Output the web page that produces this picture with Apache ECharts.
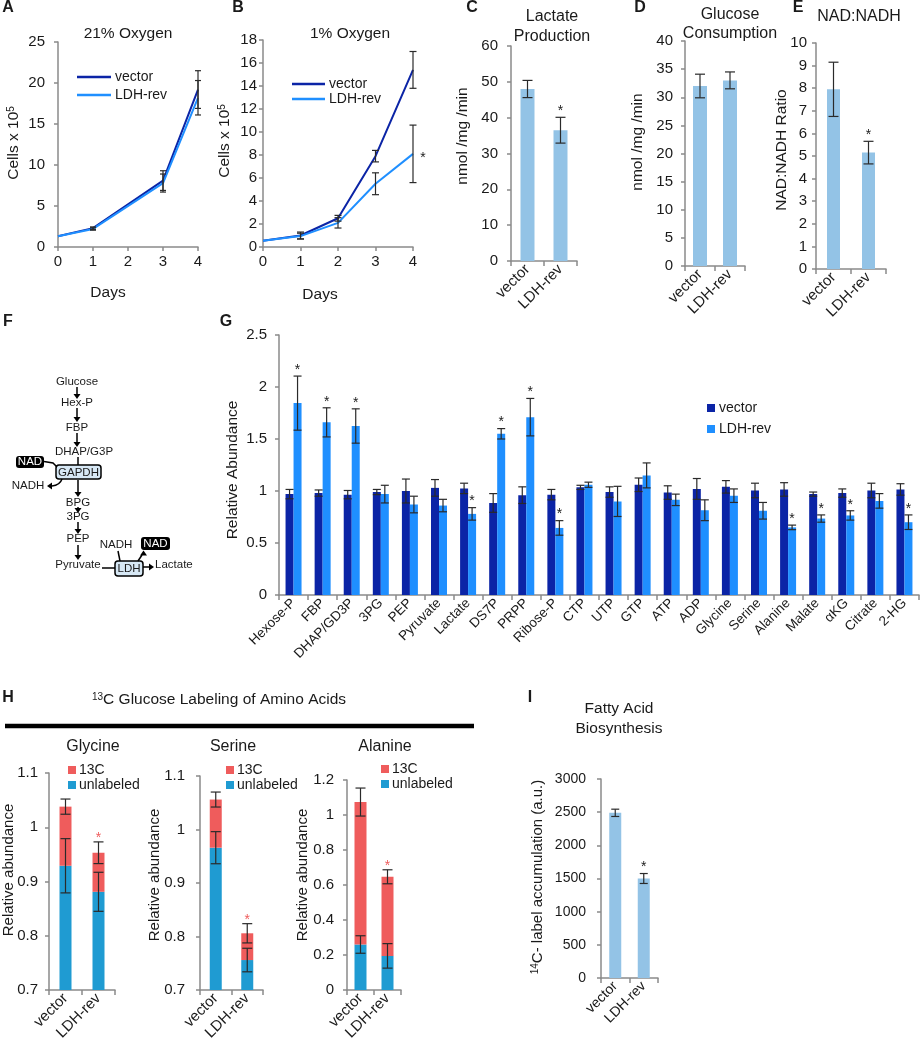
<!DOCTYPE html>
<html><head><meta charset="utf-8">
<script src="https://cdn.jsdelivr.net/npm/echarts@6/dist/echarts.min.js"></script>
<style>html,body{margin:0;padding:0;background:#fff}#c{width:920px;height:1050px}</style>
</head><body><div id="c"></div>
<script>
// ---------------- DATA ----------------
const daysA = [0, 1, 3, 4];
const vectorA = [1.3, 2.3, 8.1, 19.2];
const vectorAErr = [0, 0.15, 1.2, 2.3];
const ldhA = [1.3, 2.2, 7.8, 18.2];
const ldhAErr = [0, 0.15, 1.1, 2.1];

const daysB = [0, 1, 2, 3, 4];
const vectorB = [0.55, 1.0, 2.5, 7.9, 15.4];
const vectorBErr = [0, 0.3, 0.25, 0.5, 1.6];
const ldhB = [0.55, 0.95, 2.1, 5.5, 8.1];
const ldhBErr = [0, 0.25, 0.45, 0.95, 2.5];
const ldhBSig = [0, 0, 0, 0, 1];

const groups = ['vector', 'LDH-rev'];
const lactate = [48, 36.5];
const lactateErr = [2.4, 3.6];
const lactateSig = [0, 1];
const glucose = [32, 33];
const glucoseErr = [2.1, 1.5];
const glucoseSig = [0, 0];
const nadRatio = [7.95, 5.15];
const nadRatioErr = [1.2, 0.5];
const nadRatioSig = [0, 1];

const metabolites = ['Hexose-P','FBP','DHAP/GD3P','3PG','PEP','Pyruvate','Lactate','DS7P','PRPP','Ribose-P','CTP','UTP','GTP','ATP','ADP','Glycine','Serine','Alanine','Malate','αKG','Citrate','2-HG'];
const vectorG = [0.97,0.98,0.965,0.99,1.0,1.03,1.025,0.885,0.96,0.965,1.035,0.99,1.06,0.985,1.02,1.04,1.005,1.015,0.97,0.98,1.005,1.015];
const vectorGErr = [0.045,0.03,0.04,0.025,0.115,0.08,0.05,0.09,0.08,0.05,0.02,0.05,0.065,0.065,0.1,0.06,0.07,0.065,0.02,0.04,0.07,0.055];
const ldhG = [1.845,1.66,1.625,0.97,0.87,0.86,0.78,1.55,1.71,0.645,1.06,0.9,1.15,0.915,0.815,0.955,0.81,0.65,0.735,0.765,0.905,0.70];
const ldhGErr = [0.26,0.14,0.165,0.085,0.08,0.06,0.06,0.05,0.18,0.07,0.025,0.145,0.12,0.055,0.1,0.065,0.08,0.022,0.035,0.045,0.07,0.07];
const ldhGSig = [1,1,1,0,0,0,1,1,1,1,0,0,0,0,0,0,0,1,1,1,0,1];

const glyUnlabeled = [0.929, 0.881];
const glyUnlabeledErr = [0.05, 0.036];
const glyTotal = [1.038, 0.953];
const glyTotalErr = [0.014, 0.02];
const glySig = [0, 1];
const serUnlabeled = [0.966, 0.756];
const serUnlabeledErr = [0.03, 0.022];
const serTotal = [1.056, 0.806];
const serTotalErr = [0.014, 0.018];
const serSig = [0, 1];
const alaUnlabeled = [0.26, 0.195];
const alaUnlabeledErr = [0.05, 0.07];
const alaTotal = [1.074, 0.647];
const alaTotalErr = [0.08, 0.04];
const alaSig = [0, 1];

const fattyAcid = [2490, 1500];
const fattyAcidErr = [55, 75];
const fattyAcidSig = [0, 1];

// ---------------- STYLE ----------------
const FONT = '"Liberation Sans", Arial, Helvetica, sans-serif';
const TXT = '#1a1a1a';
const AXC = '#8a8a8a';
const LB = '#93c3e6';
const C_VEC = '#0b24a6';
const C_LDH = '#1f8fff';
const C_13C = '#ef5c5c';
const C_UNL = '#1f9bd2';
const ERR = '#2a2a2a';

const chart = echarts.init(document.getElementById('c'), null, {renderer: 'canvas'});

const fmt = v => String(+(+v).toFixed(2));

function valAxis(gi, min, max, interval, margin, fs) {
  return {type: 'value', gridIndex: gi, min, max, interval,
    axisLine: {show: true, lineStyle: {color: AXC, width: 1.5}},
    axisTick: {show: true, length: 4, lineStyle: {color: AXC, width: 1.5}},
    splitLine: {show: false},
    axisLabel: {color: TXT, fontSize: fs || 15, fontFamily: FONT, margin: margin, formatter: fmt}};
}
function catAxis(gi, data, fs) {
  return {type: 'category', gridIndex: gi, data,
    axisLine: {show: true, lineStyle: {color: AXC, width: 1.5}},
    axisTick: {show: true, length: 5, lineStyle: {color: AXC, width: 1.5}},
    axisLabel: {rotate: 45, interval: 0, color: TXT, fontSize: fs || 15, fontFamily: FONT, margin: 6}};
}
function errData(xs, vals, errs, off) {
  const out = [];
  vals.forEach((v, i) => { if (errs[i]) out.push([xs[i], v - errs[i], v + errs[i], off]); });
  return out;
}
function starData(xs, vals, errs, sig, dx, dy) {
  const out = [];
  vals.forEach((v, i) => { if (sig[i]) out.push([xs[i], v + (errs ? errs[i] : 0), dx, dy]); });
  return out;
}
function errSeries(ai, data, capW) {
  return {type: 'custom', xAxisIndex: ai, yAxisIndex: ai, data, z: 5, silent: true, clip: false,
    renderItem: function (p, api) {
      const x = api.value(0), lo = api.value(1), hi = api.value(2), off = api.value(3);
      const a = api.coord([x, lo]), b = api.coord([x, hi]);
      const cx = a[0] + off, st = {stroke: ERR, lineWidth: 1.2};
      return {type: 'group', children: [
        {type: 'line', shape: {x1: cx, y1: a[1], x2: cx, y2: b[1]}, style: st},
        {type: 'line', shape: {x1: cx - capW / 2, y1: a[1], x2: cx + capW / 2, y2: a[1]}, style: st},
        {type: 'line', shape: {x1: cx - capW / 2, y1: b[1], x2: cx + capW / 2, y2: b[1]}, style: st}]};
    }};
}
function starSeries(ai, data, color, fs) {
  return {type: 'custom', xAxisIndex: ai, yAxisIndex: ai, data, z: 6, silent: true, clip: false,
    renderItem: function (p, api) {
      const c = api.coord([api.value(0), api.value(1)]);
      return {type: 'text', style: {text: '*', x: c[0] + api.value(2), y: c[1] + api.value(3),
        fill: color, font: fs + 'px ' + FONT, align: 'center', verticalAlign: 'bottom'}};
    }};
}
function lineSeries(ai, xs, ys, color, name) {
  return {type: 'line', name, xAxisIndex: ai, yAxisIndex: ai, data: xs.map((x, i) => [x, ys[i]]),
    symbol: 'none', lineStyle: {color, width: 2}, itemStyle: {color}, z: 3, silent: true};
}
function barSeries(ai, vals, color, w, extra) {
  return Object.assign({type: 'bar', xAxisIndex: ai, yAxisIndex: ai, data: vals, barWidth: w,
    itemStyle: {color}, silent: true, clip: true}, extra || {});
}
const idx = arr => arr.map((_, i) => i);

// ---------------- GRIDS ----------------
const gridBoxes = [
  {left: 58, top: 42, width: 140, height: 205},   // A
  {left: 263, top: 40, width: 150, height: 207},  // B
  {left: 511, top: 46, width: 66, height: 215},   // C
  {left: 685, top: 41, width: 60, height: 225},   // D
  {left: 816, top: 43, width: 70, height: 226},   // E
  {left: 279, top: 335, width: 640, height: 260}, // G
  {left: 49, top: 773, width: 66, height: 217},   // H glycine
  {left: 200, top: 776, width: 63, height: 214},  // H serine
  {left: 347, top: 780, width: 54, height: 210},  // H alanine
  {left: 601, top: 779, width: 57, height: 199}   // I
];
const grid = gridBoxes.map(g => Object.assign({containLabel: false, outerBoundsMode: 'none'}, g));

const xAxis = [
  valAxis(0, 0, 4, 1, 7), valAxis(1, 0, 4, 1, 7),
  catAxis(2, groups), catAxis(3, groups), catAxis(4, groups),
  catAxis(5, metabolites, 13.5),
  catAxis(6, groups), catAxis(7, groups), catAxis(8, groups),
  catAxis(9, groups, 14)
];
const yAxis = [
  valAxis(0, 0, 25, 5, 13), valAxis(1, 0, 18, 2, 6), valAxis(2, 0, 60, 10, 13), valAxis(3, 0, 40, 5, 12),
  valAxis(4, 0, 10, 1, 9), valAxis(5, 0, 2.5, 0.5, 12), valAxis(6, 0.7, 1.1, 0.1, 11), valAxis(7, 0.7, 1.1, 0.1, 15),
  valAxis(8, 0, 1.2, 0.2, 13), valAxis(9, 0, 3000, 500, 15, 14)
];

// ---------------- SERIES ----------------
const S = [];
// A
S.push(lineSeries(0, daysA, vectorA, C_VEC, 'vector'));
S.push(lineSeries(0, daysA, ldhA, C_LDH, 'LDH-rev'));
S.push(errSeries(0, errData(daysA, vectorA, vectorAErr, 0), 6));
S.push(errSeries(0, errData(daysA, ldhA, ldhAErr, 0), 6));
// B
S.push(lineSeries(1, daysB, vectorB, C_VEC, 'vector'));
S.push(lineSeries(1, daysB, ldhB, C_LDH, 'LDH-rev'));
S.push(errSeries(1, errData(daysB, vectorB, vectorBErr, 0), 7));
S.push(errSeries(1, errData(daysB, ldhB, ldhBErr, 0), 7));
S.push(starSeries(1, starData(daysB, ldhB, null, ldhBSig, 10, 11), TXT, 14));
// C, D, E
[[2, lactate, lactateErr, lactateSig, 14], [3, glucose, glucoseErr, glucoseSig, 14], [4, nadRatio, nadRatioErr, nadRatioSig, 13]]
  .forEach(([ai, v, e, s, w]) => {
    S.push(barSeries(ai, v, LB, w));
    S.push(errSeries(ai, errData(idx(v), v, e, 0), 10));
    S.push(starSeries(ai, starData(idx(v), v, e, s, 0, 1), TXT, 14));
  });
// G
S.push(barSeries(5, vectorG, C_VEC, 8, {name: 'vector', barGap: '0%'}));
S.push(barSeries(5, ldhG, C_LDH, 8, {name: 'LDH-rev', barGap: '0%'}));
S.push(errSeries(5, errData(idx(vectorG), vectorG, vectorGErr, -4), 8));
S.push(errSeries(5, errData(idx(ldhG), ldhG, ldhGErr, 4), 8));
S.push(starSeries(5, starData(idx(ldhG), ldhG, ldhGErr, ldhGSig, 4, 1), TXT, 14));
// H
[[6, glyUnlabeled, glyUnlabeledErr, glyTotal, glyTotalErr, glySig],
 [7, serUnlabeled, serUnlabeledErr, serTotal, serTotalErr, serSig],
 [8, alaUnlabeled, alaUnlabeledErr, alaTotal, alaTotalErr, alaSig]].forEach(([ai, u, ue, t, te, s]) => {
  S.push(barSeries(ai, u, C_UNL, 12, {stack: 'h' + ai, name: 'unlabeled'}));
  S.push(barSeries(ai, t.map((v, i) => +(v - u[i]).toFixed(4)), C_13C, 12, {stack: 'h' + ai, name: '13C'}));
  S.push(errSeries(ai, errData(idx(u), u, ue, 0), 10));
  S.push(errSeries(ai, errData(idx(t), t, te, 0), 10));
  S.push(starSeries(ai, starData(idx(t), t, te, s, 0, 3), C_13C, 14));
});
// I
S.push(barSeries(9, fattyAcid, LB, 12));
S.push(errSeries(9, errData(idx(fattyAcid), fattyAcid, fattyAcidErr, 0), 8));
S.push(starSeries(9, starData(idx(fattyAcid), fattyAcid, fattyAcidErr, fattyAcidSig, 0, 1), TXT, 14));

// ---------------- GRAPHIC (titles, legends, diagram) ----------------
function T(text, x, y, o) {
  o = o || {};
  return {type: 'text', x, y, rotation: o.rot || 0, z: 10, silent: true,
    style: {text, x: 0, y: 0, fill: o.color || TXT,
      font: (o.bold ? 'bold ' : '') + (o.fs || 15.5) + 'px ' + FONT,
      align: o.align || 'center', verticalAlign: o.va || 'middle', rich: o.rich}};
}
const V = Math.PI / 2;
const supRich = (fs, nfs) => ({s: {fontSize: fs, fontFamily: FONT, fill: TXT, verticalAlign: 'top'},
                        n: {fontSize: nfs || 15.5, fontFamily: FONT, fill: TXT}});
function L(x1, y1, x2, y2, w, c) {
  return {type: 'line', z: 10, silent: true, shape: {x1, y1, x2, y2}, style: {stroke: c || '#000', lineWidth: w || 1.5}};
}
function R(x, y, w, h, fill, stroke, r) {
  return {type: 'rect', z: 10, silent: true, shape: {x, y, width: w, height: h, r: r || 0},
    style: {fill, stroke: stroke || null, lineWidth: stroke ? 1.5 : 0}};
}
function head(x, y, dir) { // arrowhead tip at (x,y)
  const s = 3.5, l = 5;
  let pts;
  if (dir === 'down') pts = [[x - s, y - l], [x + s, y - l], [x, y]];
  else if (dir === 'up') pts = [[x - s, y + l], [x + s, y + l], [x, y]];
  else if (dir === 'right') pts = [[x - l, y - s], [x - l, y + s], [x, y]];
  else pts = [[x + l, y - s], [x + l, y + s], [x, y]];
  return {type: 'polygon', z: 10, silent: true, shape: {points: pts}, style: {fill: '#000'}};
}
function arrowDown(x, y1, y2) { return [L(x, y1, x, y2 - 4), head(x, y2, 'down')]; }

const G = [];
// panel letters
[['A', 8, 8], ['B', 238, 8], ['C', 472, 8], ['D', 640, 8], ['E', 798, 8], ['F', 8, 322], ['G', 226, 322], ['H', 8, 698], ['I', 530, 698]]
  .forEach(([t, x, y]) => G.push(T(t, x, y, {bold: true, fs: 16})));
// titles
G.push(T('21% Oxygen', 128, 34, {fs: 15.5}));
G.push(T('1% Oxygen', 350, 34, {fs: 15.5}));
G.push(T('Lactate', 552, 17, {fs: 16})); G.push(T('Production', 552, 37, {fs: 16}));
G.push(T('Glucose', 730, 15, {fs: 16})); G.push(T('Consumption', 730, 34, {fs: 16}));
G.push(T('NAD:NADH', 859, 17, {fs: 16}));
G.push(T('{s|13}{n|C Glucose Labeling of Amino Acids}', 219, 700, {rich: supRich(10, 15.5)}));
G.push(L(5, 726, 474, 726, 4.5));
G.push(T('Glycine', 93, 747, {fs: 16})); G.push(T('Serine', 233, 747, {fs: 16})); G.push(T('Alanine', 385, 747, {fs: 16}));
G.push(T('Fatty Acid', 619, 709, {fs: 15.5})); G.push(T('Biosynthesis', 619, 729, {fs: 15.5}));
// axis names
G.push(T('{n|Cells x 10}{s|5}', 14, 143, {rot: V, rich: supRich(10, 15.5)}));
G.push(T('{n|Cells x 10}{s|5}', 225, 141, {rot: V, rich: supRich(10, 15.5)}));
G.push(T('Days', 108, 293)); G.push(T('Days', 320, 295));
G.push(T('nmol /mg /min', 463, 136, {rot: V}));
G.push(T('nmol /mg /min', 638, 142, {rot: V}));
G.push(T('NAD:NADH Ratio', 782, 150, {rot: V}));
G.push(T('Relative Abundance', 233, 470, {rot: V}));
G.push(T('Relative abundance', 9, 870, {rot: V, fs: 15}));
G.push(T('Relative abundance', 155, 875, {rot: V, fs: 15}));
G.push(T('Relative abundance', 303, 875, {rot: V, fs: 15}));
G.push(T('{s|14}{n|C- label accumulation (a.u.)}', 538, 877, {rot: V, rich: supRich(10, 15)}));
// legends A, B
G.push(L(77, 77, 111, 77, 2.5, C_VEC)); G.push(T('vector', 115, 77, {align: 'left', fs: 14}));
G.push(L(77, 95, 111, 95, 2.5, C_LDH)); G.push(T('LDH-rev', 115, 95, {align: 'left', fs: 14}));
G.push(L(292, 84, 325, 84, 2.5, C_VEC)); G.push(T('vector', 329, 84, {align: 'left', fs: 14}));
G.push(L(292, 99, 325, 99, 2.5, C_LDH)); G.push(T('LDH-rev', 329, 99, {align: 'left', fs: 14}));
// legend G
G.push(R(707, 404, 8, 8, C_VEC)); G.push(T('vector', 719, 408, {align: 'left', fs: 14}));
G.push(R(707, 425, 8, 8, C_LDH)); G.push(T('LDH-rev', 719, 429, {align: 'left', fs: 14}));
// legends H
[[68, 770], [226, 770], [381, 769]].forEach(([x, y]) => {
  G.push(R(x, y - 4, 8, 8, C_13C)); G.push(T('13C', x + 11, y, {align: 'left', fs: 14}));
  G.push(R(x, y + 11, 8, 8, C_UNL)); G.push(T('unlabeled', x + 11, y + 15, {align: 'left', fs: 14}));
});
// ---- diagram F ----
const DF = 11.5;
const dT = (t, x, y, o) => T(t, x, y, Object.assign({fs: DF}, o || {}));
G.push(dT('Glucose', 77, 382));
G.push(...arrowDown(77, 387, 399));
G.push(dT('Hex-P', 77, 403));
G.push(...arrowDown(77, 408, 422));
G.push(dT('FBP', 77, 428));
G.push(...arrowDown(77, 433, 447));
G.push(dT('DHAP/G3P', 84, 452));
G.push(L(78, 457, 78, 465));
G.push(R(56, 465, 45, 14, '#d7e8f5', '#000', 3));
G.push(dT('GAPDH', 78.5, 472.5));
G.push(R(16, 456, 28, 12, '#000', null, 3));
G.push(dT('NAD', 30, 462, {color: '#fff'}));
G.push({type: 'polyline', z: 10, silent: true, shape: {points: [[44, 461.5], [53, 463], [57, 467]]}, style: {stroke: '#000', lineWidth: 1.5, fill: null}});
G.push({type: 'bezierCurve', z: 10, silent: true, shape: {x1: 62, y1: 479, cpx1: 60, cpy1: 485, x2: 52, y2: 486}, style: {stroke: '#000', lineWidth: 1.5, fill: null}});
G.push(head(47, 486, 'left'));
G.push(dT('NADH', 28, 486));
G.push(...arrowDown(78, 480, 497));
G.push(dT('BPG', 78, 503));
G.push(...arrowDown(78, 507, 513));
G.push(dT('3PG', 78, 517));
G.push(...arrowDown(78, 522, 534));
G.push(dT('PEP', 78, 539));
G.push(...arrowDown(78, 545, 560));
G.push(dT('Pyruvate', 78, 565));
G.push(L(102, 568, 115, 568));
G.push(R(115, 561, 28, 15, '#d7e8f5', '#000', 3));
G.push(dT('LDH', 129, 568.5));
G.push(L(143, 567, 150, 567)); G.push(head(154, 567, 'right'));
G.push(dT('Lactate', 155, 565, {align: 'left'}));
G.push(dT('NADH', 116, 545));
G.push(L(118, 551, 120, 561));
G.push(L(138, 561, 142, 555)); G.push(head(143.5, 550.5, 'up'));
G.push(R(141, 537, 29, 13, '#000', null, 3));
G.push(dT('NAD', 155.5, 543.5, {color: '#fff'}));

chart.setOption({
  animation: false,
  backgroundColor: '#fff',
  textStyle: {fontFamily: FONT},
  grid, xAxis, yAxis, series: S, graphic: G
});
</script></body></html>
